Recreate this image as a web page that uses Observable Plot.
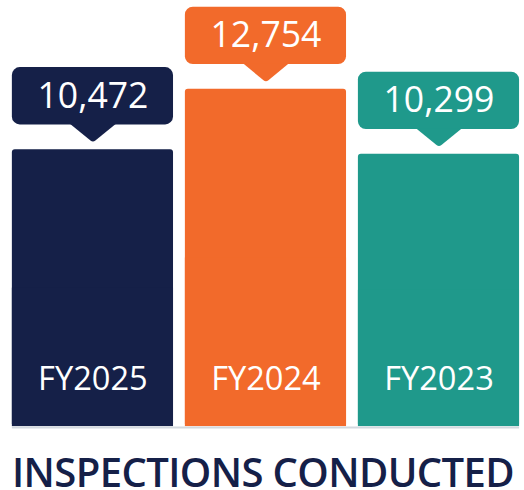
<!DOCTYPE html>
<html><head><meta charset="utf-8">
<script src="https://cdn.jsdelivr.net/npm/d3@7"></script>
<script src="https://cdn.jsdelivr.net/npm/@observablehq/plot@0.6"></script>
<style>
html,body{margin:0;padding:0;background:#fff;overflow:hidden;width:524px;height:490px;position:relative}
#chart svg{display:block}
#title{position:absolute;left:12px;top:455px;font-family:"Open Sans";font-weight:600;font-size:40px;line-height:34px;height:34px;color:#152048;white-space:nowrap;letter-spacing:-0.6px}
</style></head><body><div id="chart"></div><div id="title"></div>
<script>
const years = ["FY2025", "FY2024", "FY2023"];
const inspections = [10472, 12754, 10299];
const colors = ["#152048", "#f26a2b", "#1f998b"];
const titleText = "INSPECTIONS CONDUCTED";

const data = years.map((year, i) => ({year, value: inspections[i], half: inspections[i] / 2}));
const fmt = d3.format(",");
const pointer = {
  draw(ctx) {
    ctx.moveTo(-23, -18);
    ctx.lineTo(23, -18);
    ctx.lineTo(2.5, -1.2);
    ctx.quadraticCurveTo(0, 0.8, -2.5, -1.2);
    ctx.closePath();
  }
};

const chart = Plot.plot({
  width: 530,
  height: 440,
  marginLeft: 12,
  marginRight: 5,
  marginTop: 0,
  marginBottom: 9,
  style: {fontFamily: "Open Sans", background: "white"},
  x: {domain: years, paddingInner: 0.0686, paddingOuter: 0, axis: null},
  y: {domain: [0, 16111], axis: null},
  color: {domain: years, range: colors},
  marks: [
    Plot.barY(data, {x: "year", y: "value", fill: "year", rx: 3}),
    Plot.barY(data, {x: "year", y: "half", fill: "year"}),
    Plot.barY(data, {x: "year", y1: "value", y2: "value", fill: "year", insetTop: -83, insetBottom: 25, rx: 8}),
    Plot.dot(data, {x: "year", y: "value", fill: "year", stroke: null, symbol: pointer, dy: -8}),
    Plot.text(data, {x: "year", y: "value", text: d => fmt(d.value), dy: -54, fill: "white", fontSize: 36}),
    Plot.text(data, {x: "year", frameAnchor: "bottom", text: "year", dy: -37, fill: "white", fontSize: 33}),
    Plot.ruleY([0], {stroke: "#d3d9df", strokeWidth: 2, dy: 1})
  ]
});
document.getElementById("chart").append(chart);
document.getElementById("title").textContent = titleText;
</script>
</body></html>
